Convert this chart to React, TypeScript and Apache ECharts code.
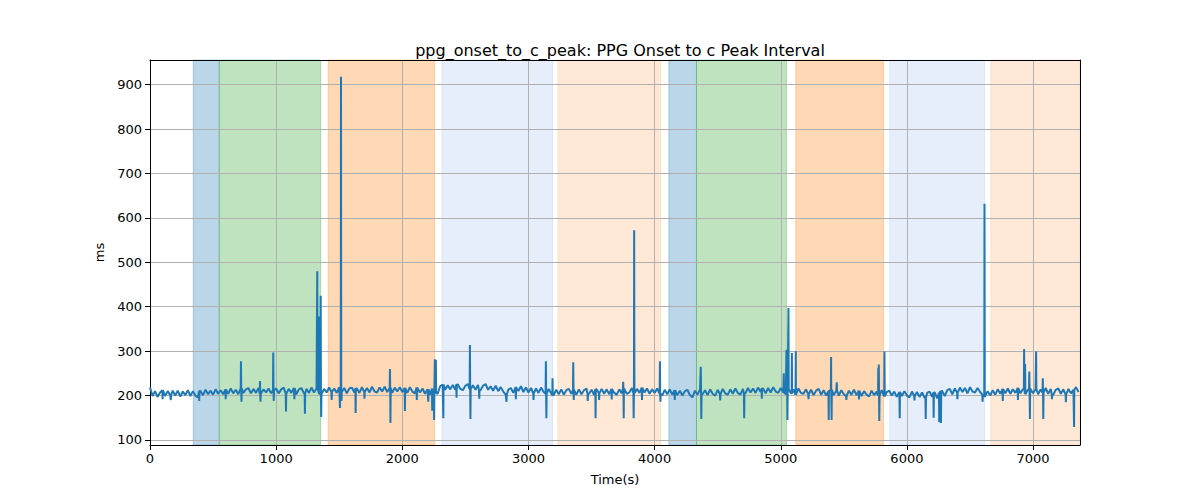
import React, { useEffect, useRef } from 'react';
import * as echarts from 'echarts';

const FONT = 'DejaVu Sans';
const TITLE = 'ppg_onset_to_c_peak: PPG Onset to c Peak Interval';

// baseline samples, one every BASE_STEP seconds starting at 0
const BASE_STEP = 20;
const BASELINE: number[] = [
  218, 199, 210, 197, 207, 212, 199, 210, 201, 211,
  200, 211, 198, 209, 201, 212, 199, 210, 200, 196,
  210, 201, 213, 203, 211, 202, 214, 204, 212, 203,
  214, 204, 216, 205, 213, 203, 216, 206, 214, 217,
  205, 215, 206, 217, 204, 214, 207, 216, 205, 212,
  216, 205, 214, 218, 204, 215, 206, 217, 203, 214,
  217, 205, 215, 206, 218, 207, 216, 204, 203, 215,
  207, 218, 208, 216, 206, 219, 208, 217, 205, 216,
  218, 207, 216, 206, 219, 208, 217, 207, 220, 209,
  207, 218, 209, 220, 208, 217, 206, 218, 209, 219,
  208, 217, 206, 219, 209, 205, 218, 207, 216, 204,
  214, 202, 216, 206, 204, 221, 225, 213, 223, 214,
  224, 213, 225, 215, 212, 222, 226, 214, 223, 213,
  224, 212, 222, 226, 213, 221, 211, 222, 210, 219,
  209, 202, 213, 217, 206, 219, 210, 221, 208, 218,
  207, 217, 205, 216, 206, 218, 208, 204, 215, 205,
  201, 213, 203, 214, 202, 212, 215, 204, 213, 202,
  214, 203, 212, 216, 204, 213, 202, 214, 205, 215,
  204, 214, 203, 215, 206, 202, 214, 205, 216, 204,
  207, 217, 205, 215, 206, 218, 207, 216, 204, 214,
  206, 216, 204, 200, 213, 203, 214, 202, 212, 201,
  211, 200, 210, 213, 201, 196, 211, 202, 214, 203,
  212, 201, 214, 204, 200, 213, 203, 215, 205, 202,
  214, 204, 216, 206, 202, 215, 205, 217, 207, 216,
  206, 218, 208, 216, 205, 217, 207, 219, 209, 206,
  217, 207, 203, 215, 205, 214, 202, 216, 206, 204,
  214, 203, 213, 201, 211, 215, 202, 212, 200, 210,
  213, 201, 211, 200, 212, 203, 199, 211, 202, 213,
  201, 211, 199, 210, 202, 198, 211, 201, 209, 200,
  212, 198, 208, 211, 200, 209, 197, 208, 199, 210,
  200, 196, 209, 199, 208, 197, 207, 195, 206, 209,
  197, 207, 194, 206, 210, 199, 212, 215, 203, 216,
  206, 218, 208, 217, 205, 219, 209, 207, 217, 208,
  202, 197, 210, 200, 212, 202, 214, 204, 215, 205,
  216, 204, 214, 206, 217, 205, 215, 203, 213, 216,
  205, 215, 203, 214, 206, 217, 204, 215, 202, 213,
  216, 204, 214, 202, 215, 205, 213, 219, 208,
];

// isolated spikes and dips: [time (s), value (ms)]
const SPIKES: [number, number][] = [
  [100, 192], [165, 190], [390, 188], [600, 192], [721, 277], [725, 186], [872, 233],
  [876, 186], [977, 297], [981, 188], [1078, 164], [1145, 192], [1228, 159],
  [1326, 480], [1342, 378], [1353, 425], [1357, 152], [1440, 190], [1506, 172],
  [1514, 918], [1518, 188], [1630, 161], [1700, 193], [1902, 260], [1906, 138],
  [2021, 165], [2115, 190], [2206, 186], [2237, 166], [2252, 145], [2258, 282],
  [2266, 280], [2325, 149], [2430, 195], [2536, 314], [2540, 147], [2610, 193],
  [2826, 186], [2900, 192], [3040, 190], [3138, 277], [3142, 149], [3191, 239],
  [3355, 275], [3359, 190], [3470, 188], [3532, 149], [3560, 190], [3660, 191],
  [3751, 231], [3755, 149], [3834, 149], [3838, 572], [3900, 190], [4042, 277],
  [4046, 186], [4160, 190], [4366, 265], [4370, 147], [4520, 189], [4710, 149],
  [4850, 193], [5024, 250], [5045, 303], [5053, 145], [5061, 397], [5088, 296],
  [5119, 300], [5220, 192], [5380, 145], [5399, 287], [5403, 145], [5444, 230],
  [5520, 190], [5620, 191], [5773, 262], [5777, 270], [5781, 143], [5822, 299],
  [5943, 149], [6060, 189], [6149, 147], [6212, 150], [6256, 140], [6270, 138],
  [6400, 192], [6600, 186], [6615, 632], [6760, 188], [6880, 190], [6929, 305],
  [6937, 271], [6970, 254], [6975, 147], [7024, 299], [7077, 239], [7081, 147],
  [7150, 192], [7260, 185], [7325, 129],
];

// shaded phases
const BAND_START = [343, 549, 1413, 2314, 3233, 4113, 4332, 5119, 5864, 6665];
const BAND_END = [549, 1353, 2256, 3191, 4047, 4332, 5045, 5814, 6615, 7372];
const BAND_KIND = ['blue', 'green', 'orange', 'light', 'peach', 'blue', 'green', 'orange', 'light', 'peach'];
const BAND_COLORS: Record<string, string> = {
  blue: 'rgba(31,119,180,0.3)',
  green: 'rgba(44,160,44,0.3)',
  orange: 'rgba(255,127,14,0.3)',
  light: 'rgba(100,149,237,0.16)',
  peach: 'rgba(255,127,14,0.17)',
};

const X_MIN = 0;
const X_MAX = 7372;
const Y_MIN = 88.7;
const Y_MAX = 955.5;
const X_TICKS = [0, 1000, 2000, 3000, 4000, 5000, 6000, 7000];
const Y_TICKS = [100, 200, 300, 400, 500, 600, 700, 800, 900];

function buildLine(): [number, number][] {
  const pts: [number, number][] = BASELINE.map((v, i) => [i * BASE_STEP, v]);
  const baseAt = (t: number) => BASELINE[Math.min(BASELINE.length - 1, Math.round(t / BASE_STEP))];
  SPIKES.forEach(([t, v]) => {
    pts.push([t - 2, baseAt(t)], [t, v], [t + 2, baseAt(t)]);
  });
  pts.sort((a, b) => a[0] - b[0]);
  return pts;
}

export default function App() {
  const ref = useRef<HTMLDivElement>(null);
  useEffect(() => {
    document.body.style.margin = '0';
    if (!ref.current) return;
    const chart = echarts.init(ref.current, null, { renderer: 'svg' });
    const areas = BAND_START.map((s, i) => {
      const c = BAND_COLORS[BAND_KIND[i]];
      return [
        { xAxis: s, itemStyle: { color: c, borderColor: c, borderWidth: 1 } },
        { xAxis: BAND_END[i] },
      ];
    });
    const labelStyle = { color: '#000', fontSize: 13, fontFamily: FONT };
    const plain = (v: number) => String(v);
    chart.setOption({
      animation: false,
      backgroundColor: '#fff',
      title: {
        text: TITLE,
        left: 615,
        top: 37,
        textAlign: 'center',
        textStyle: { color: '#000', fontSize: 16, fontWeight: 'normal', fontFamily: FONT },
      },
      grid: { left: 150, right: 120, top: 60, bottom: 55, containLabel: false },
      xAxis: [
        {
          type: 'value',
          min: X_MIN,
          max: X_MAX,
          splitNumber: 7,
          z: 1,
          name: 'Time(s)',
          nameLocation: 'middle',
          nameGap: 28,
          nameTextStyle: labelStyle,
          axisLine: { show: true, onZero: false, lineStyle: { color: '#000', width: 1 } },
          axisTick: { show: true, length: 5, lineStyle: { color: '#000' }, customValues: X_TICKS },
          axisLabel: { ...labelStyle, margin: 7, customValues: X_TICKS, formatter: plain },
          splitLine: { show: true, lineStyle: { color: '#b0b0b0', width: 1 } },
        },
        {
          type: 'value',
          position: 'top',
          min: X_MIN,
          max: X_MAX,
          z: 1,
          axisLine: { show: true, onZero: false, lineStyle: { color: '#000', width: 1 } },
          axisTick: { show: false },
          axisLabel: { show: false },
          splitLine: { show: false },
        },
      ],
      yAxis: [
        {
          type: 'value',
          min: Y_MIN,
          max: Y_MAX,
          splitNumber: 9,
          z: 1,
          name: 'ms',
          nameLocation: 'middle',
          nameGap: 42,
          nameTextStyle: labelStyle,
          axisLine: { show: true, onZero: false, lineStyle: { color: '#000', width: 1 } },
          axisTick: { show: true, length: 5, lineStyle: { color: '#000' }, customValues: Y_TICKS },
          axisLabel: { ...labelStyle, margin: 8, customValues: Y_TICKS, formatter: plain },
          splitLine: { show: true, lineStyle: { color: '#b0b0b0', width: 1 } },
        },
        {
          type: 'value',
          position: 'right',
          min: Y_MIN,
          max: Y_MAX,
          z: 1,
          axisLine: { show: true, onZero: false, lineStyle: { color: '#000', width: 1 } },
          axisTick: { show: false },
          axisLabel: { show: false },
          splitLine: { show: false },
        },
      ],
      series: [
        {
          type: 'line',
          data: buildLine(),
          xAxisIndex: 0,
          yAxisIndex: 0,
          z: 3,
          showSymbol: false,
          symbol: 'none',
          silent: true,
          clip: true,
          lineStyle: { color: '#1f77b4', width: 2 },
          markArea: { silent: true, z: 0, data: areas },
        },
      ],
    });
    return () => chart.dispose();
  }, []);
  return <div ref={ref} style={{ width: 1200, height: 500 }} />;
}
